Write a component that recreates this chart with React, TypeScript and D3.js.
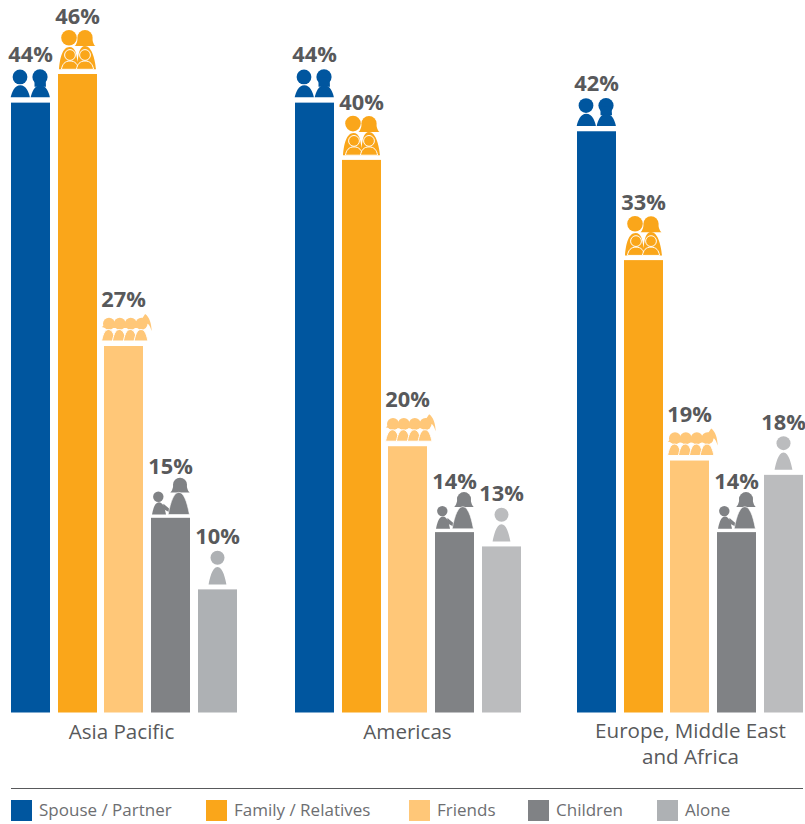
import React from "react";
import * as d3 from "d3";

const regions = ["Asia Pacific", "Americas", "Europe, Middle East and Africa"];
const regionLines = [["Asia Pacific"], ["Americas"], ["Europe, Middle East", "and Africa"]];
const householdTypes = ["Spouse / Partner", "Family / Relatives", "Friends", "Children", "Alone"];
const asiaPacificValues = [44, 46, 27, 15, 10];
const americasValues = [44, 40, 20, 14, 13];
const emeaValues = [42, 33, 19, 14, 18];
const regionValues = [asiaPacificValues, americasValues, emeaValues];
const typeColors = ["#00569F", "#FAA61A", "#FFC778", "#808285", "#AEB1B4"];
const aloneColorsByRegion = ["#AEB1B4", "#BBBCBE", "#BBBCBE"];

const WIDTH = 805;
const HEIGHT = 824;
const BASELINE = 712.5;
const PLOT_TOP = 74;
const LABEL_COLOR = "#58595B";
const LEGEND_TEXT = "#6D6E71";
const FONT = "'Open Sans', sans-serif";

// The value axis starts just above zero, as the drawn bars do.
const yScale = d3.scaleLinear().domain([1.4, 46]).range([BASELINE, PLOT_TOP]);
const groupScale = d3.scaleOrdinal<string, number>().domain(regions).range([11, 295, 577]);
const barScale = d3
  .scaleBand<string>()
  .domain(householdTypes)
  .range([0, 225.8])
  .paddingInner(0.165);

// Distance from bar top to the percentage baseline, per pictogram height.
const labelOffsets = [40.5, 49.7, 38.8, 43.5, 45];
const legendSwatchX = [11, 206, 409, 528, 657];
const regionLabelCenters = [121.5, 407.5, 690.5];

const bell = (cx: number, hw: number, top: number, bottom: number) =>
  `M${cx - hw},${bottom} C${cx - hw + 1},${bottom - 5} ${cx - hw * 0.62},${top} ${cx},${top} ` +
  `C${cx + hw * 0.62},${top} ${cx + hw - 1},${bottom - 5} ${cx + hw},${bottom} Z`;

// A rounded head of hair that flares out at the shoulders.
function Hair({ cx, cy, r, flare }: { cx: number; cy: number; r: number; flare: number }) {
  const bottom = cy + r + 0.8;
  return (
    <>
      <circle cx={cx} cy={cy} r={r} />
      <path
        d={`M${cx - flare},${bottom} C${cx - r - 0.5},${bottom - 1.5} ${cx - r},${cy + 2} ${cx - r + 0.6},${cy} L${cx + r - 0.6},${cy} C${cx + r},${cy + 2} ${cx + r + 0.5},${bottom - 1.5} ${cx + flare},${bottom} Z`}
      />
    </>
  );
}

function Couple({ fill }: { fill: string }) {
  return (
    <g fill={fill}>
      <circle cx={-10.5} cy={-25.7} r={7.4} />
      <path d={bell(-10.2, 9.6, -17.5, -5.3)} />
      <circle cx={9.5} cy={-25.7} r={7.6} />
      <path d="M4,-25 L15,-25 L15.5,-16 L4,-16 Z" />
      <path d={bell(9.8, 9.6, -17.5, -5.3)} />
    </g>
  );
}

function Family({ fill }: { fill: string }) {
  const child = (cx: number) => (
    <g key={cx}>
      <path d={bell(cx, 8.6, -13, -4.7)} fill={fill} stroke="#fff" strokeWidth={1} />
      <circle cx={cx} cy={-19} r={5.4} fill={fill} stroke="#fff" strokeWidth={1} />
    </g>
  );
  return (
    <g fill={fill}>
      <circle cx={-8.5} cy={-36.3} r={7.8} />
      <Hair cx={7.5} cy={-36.3} r={7.6} flare={10.5} />
      <path d="M-18.5,-4.7 C-17.5,-16 -15,-27 -8,-27 C-2,-27 -1,-20 0,-12 C1,-20 2,-28 7.5,-28 C14,-28 17.5,-16 18.5,-4.7 Z" />
      {child(-7.5)}
      {child(7.5)}
    </g>
  );
}

function Friends({ fill }: { fill: string }) {
  const centers = [-14.5, -3.7, 7.3, 18];
  return (
    <g fill={fill}>
      <path d="M-21.8,-19 C-19,-20 -18,-24 -15,-26 L-14,-17 Z" />
      <path d="M18,-27 C20,-29 21,-31.5 21.7,-32 C26,-29 28,-22 28.2,-15 C26.5,-20 25,-23 23,-22 Z" />
      {centers.map((cx) => (
        <circle key={cx} cx={cx} cy={-22.3} r={6} />
      ))}
      <rect x={-16} y={-23} width={36} height={5} />
      {centers.map((cx) => (
        <path key={cx} d={bell(cx - 0.5, 6.9, -16.5, -5)} stroke="#fff" strokeWidth={1} />
      ))}
    </g>
  );
}

function ParentChild({ fill }: { fill: string }) {
  return (
    <g fill={fill}>
      <circle cx={-12.2} cy={-21} r={5.2} />
      <path d={bell(-11.5, 7, -15.5, -3.3)} />
      <path d="M-7,-14 L0,-8 L0,-5 L-8,-9 Z" />
      <Hair cx={9.5} cy={-33} r={7} flare={9.7} />
      <path d={bell(8.3, 10.6, -25.5, -3.3)} stroke="#fff" strokeWidth={0.6} />
    </g>
  );
}

function Single({ fill }: { fill: string }) {
  return (
    <g fill={fill}>
      <circle cx={0} cy={-31.7} r={7} />
      <path d={bell(0, 8.9, -22.3, -5)} />
    </g>
  );
}

const pictograms = [Couple, Family, Friends, ParentChild, Single];

export default function App() {
  return (
    <svg
      width={WIDTH}
      height={HEIGHT}
      viewBox={`0 0 ${WIDTH} ${HEIGHT}`}
      style={{ position: "absolute", left: 0, top: 0, background: "#fff" }}
      fontFamily={FONT}
    >
      {regions.map((region, r) => {
        const gx = groupScale(region);
        return (
          <g key={region}>
            {householdTypes.map((type, i) => {
              const value = regionValues[r][i];
              const x = Math.round(gx + barScale(type)!);
              const w = Math.round(barScale.bandwidth());
              const top = yScale(value);
              const color = i === 4 ? aloneColorsByRegion[r] : typeColors[i];
              const Icon = pictograms[i];
              return (
                <g key={type}>
                  <rect x={x} y={top} width={w} height={BASELINE - top} fill={color} />
                  <g transform={`translate(${x + w / 2},${top})`}>
                    <Icon fill={color} />
                  </g>
                  <text
                    x={x + w / 2}
                    y={top - labelOffsets[i]}
                    textAnchor="middle"
                    fontSize={21.8}
                    fontWeight={700}
                    fill={LABEL_COLOR}
                  >
                    {value}%
                  </text>
                </g>
              );
            })}
            {regionLines[r].map((line, k) => (
              <text
                key={line}
                x={regionLabelCenters[r]}
                y={739 + (r === 2 ? -1 : 0) + k * 26}
                textAnchor="middle"
                fontSize={20.6}
                fill={LABEL_COLOR}
              >
                {line}
              </text>
            ))}
          </g>
        );
      })}

      <line x1={11} x2={803} y1={788.5} y2={788.5} stroke={LABEL_COLOR} strokeWidth={1} />

      {householdTypes.map((type, i) => (
        <g key={type} transform={`translate(${legendSwatchX[i]},800)`}>
          <rect width={21} height={21} fill={typeColors[i]} />
          <text x={28} y={16} fontSize={17} fill={LEGEND_TEXT}>
            {type}
          </text>
        </g>
      ))}
    </svg>
  );
}
